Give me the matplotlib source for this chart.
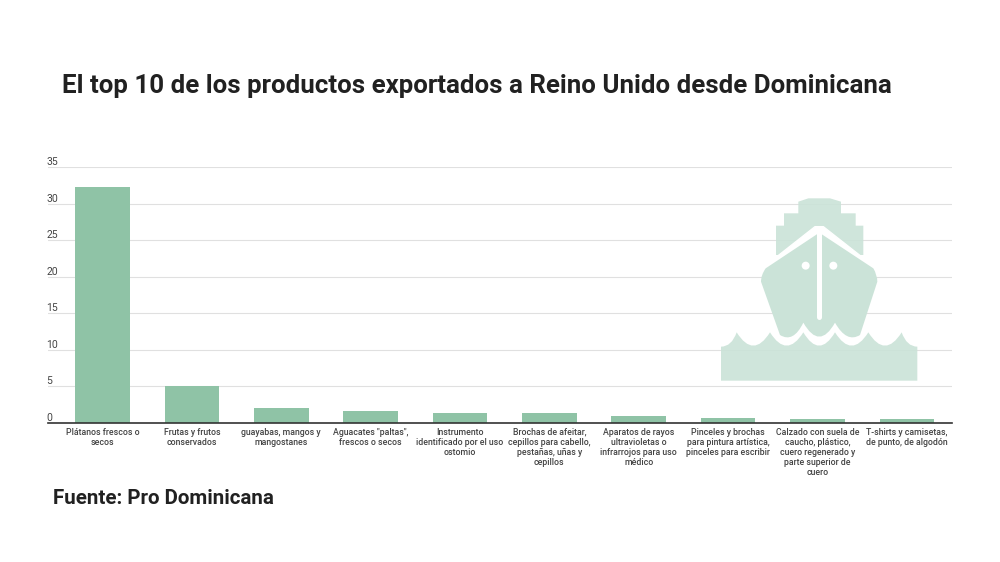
import matplotlib
matplotlib.use('Agg')
import matplotlib.pyplot as plt
from matplotlib.patches import Circle, PathPatch, Polygon
from matplotlib.path import Path

plt.rcParams['font.family'] = ['Roboto', 'DejaVu Sans']

categories = [
    'Plátanos frescos o\nsecos',
    'Frutas y frutos\nconservados',
    'guayabas, mangos y\nmangostanes',
    'Aguacates "paltas",\nfrescos o secos',
    'Instrumento\nidentificado por el uso\nostomio',
    'Brochas de afeitar,\ncepillos para cabello,\npestañas, uñas y\ncepillos',
    'Aparatos de rayos\nultravioletas o\ninfrarrojos para uso\nmédico',
    'Pinceles y brochas\npara pintura artística,\npinceles para escribir',
    'Calzado con suela de\ncaucho, plástico,\ncuero regenerado y\nparte superior de\ncuero',
    'T-shirts y camisetas,\nde punto, de algodón',
]
values = [32.2, 5.0, 2.0, 1.65, 1.37, 1.37, 0.9, 0.74, 0.5, 0.5]
y_ticks = [0, 5, 10, 15, 20, 25, 30, 35]

TITLE = 'El top 10 de los productos exportados a Reino Unido desde Dominicana'
SOURCE = 'Fuente: Pro Dominicana'

BAR = '#8fc3a6'
ICON = '#cbe3d8'
GRID = '#e0e0e0'
TEXT = '#212121'
LABEL = '#444444'


def px(x, y):
    # icon sketch was measured on a 3x crop starting at (700, 180)
    return 700 + x / 3, 180 + y / 3


def draw_ship(ov):
    alpha = 0.92
    # superstructure
    top = [(228, 225), (228, 137), (252, 137), (252, 100), (295, 100), (295, 65),
           (325, 55), (390, 55), (423, 65), (423, 100), (467, 100), (467, 137),
           (490, 137), (490, 225)]
    ov.add_patch(Polygon([px(*p) for p in top], fc=ICON, ec='none', alpha=alpha, zorder=4))

    # white chevron between the decks and the hull
    chevron = [(205, 250), (345, 140), (370, 140), (510, 250), (510, 300), (205, 300)]
    ov.add_patch(Polygon([px(*p) for p in chevron], fc='white', ec='white', lw=1,
                         joinstyle='round', zorder=5))

    # hull, scalloped along the bottom
    verts = [px(358, 158), px(520, 265), px(532, 285), px(532, 305), px(480, 465),
             px(440, 490), px(405, 428), px(358, 512), px(310, 428), px(280, 490),
             px(240, 465), px(183, 305), px(183, 285), px(197, 265), px(358, 158)]
    codes = [Path.MOVETO, Path.LINETO, Path.CURVE3, Path.CURVE3, Path.LINETO,
             Path.CURVE3, Path.CURVE3, Path.CURVE3, Path.CURVE3, Path.CURVE3,
             Path.CURVE3, Path.LINETO, Path.CURVE3, Path.CURVE3, Path.LINETO]
    ov.add_patch(PathPatch(Path(verts, codes), fc=ICON, ec='none', alpha=1, zorder=6))

    # mast and portholes
    ov.plot(*zip(px(358, 150), px(358, 410)), color='white', lw=3.6,
            solid_capstyle='round', zorder=7)
    ov.add_patch(Circle(px(317, 257), 4, fc='white', ec='none', zorder=7))
    ov.add_patch(Circle(px(400, 257), 4, fc='white', ec='none', zorder=7))

    # water
    cusps = [110, 210, 310, 405, 505, 605]
    verts = [px(63, 602), px(63, 500), px(95, 500), px(cusps[0], 457)]
    codes = [Path.MOVETO, Path.LINETO, Path.CURVE3, Path.CURVE3]
    for a, b in zip(cusps, cusps[1:]):
        verts += [px((a + b) / 2, 537), px(b, 457)]
        codes += [Path.CURVE3, Path.CURVE3]
    verts += [px(620, 500), px(652, 500), px(652, 602), px(63, 602)]
    codes += [Path.CURVE3, Path.CURVE3, Path.LINETO, Path.CLOSEPOLY]
    ov.add_patch(PathPatch(Path(verts, codes), fc=ICON, ec='white', lw=0, alpha=alpha, zorder=8))


fig = plt.figure(figsize=(10, 5.62), dpi=100)
W, H = 1000, 562
left, right, top_px, base_px = 48, 952, 167, 423
ax = fig.add_axes([left / W, 1 - base_px / H, (right - left) / W, (base_px - top_px) / H])

ax.bar(range(len(values)), values, width=0.61, color=BAR, zorder=3)
ax.set_xlim(-0.61, 9.505)
ax.set_ylim(0, 35)

ax.set_yticks(y_ticks)
ax.set_yticklabels([str(v) for v in y_ticks], fontsize=7.5, color=LABEL, ha='left', va='bottom')
ax.tick_params(axis='y', length=0, pad=1)
ax.set_xticks(range(len(categories)))
ax.set_xticklabels(categories, fontsize=6.3, color=LABEL, linespacing=1.13, fontweight='medium')
ax.tick_params(axis='x', length=0, pad=3.5)

ax.grid(axis='y', color=GRID, lw=0.8, zorder=0)
ax.set_axisbelow(True)
for side in ['top', 'right', 'left']:
    ax.spines[side].set_visible(False)
ax.spines['bottom'].set_color('#333333')
ax.spines['bottom'].set_linewidth(1.2)
ax.spines['bottom'].set_zorder(5)

# overlay in pixel coordinates for the ship icon
ov = fig.add_axes([0, 0, 1, 1], facecolor='none')
ov.set_xlim(0, W)
ov.set_ylim(H, 0)
ov.axis('off')
draw_ship(ov)

fig.text(62 / W, 1 - 85.5 / H, TITLE, fontsize=18.65, fontweight='bold', color=TEXT, va='center')
fig.text(53 / W, 1 - 499 / H, SOURCE, fontsize=14.75, fontweight='bold', color=TEXT, va='center')

fig.savefig('out.png', dpi=100, facecolor='white')
